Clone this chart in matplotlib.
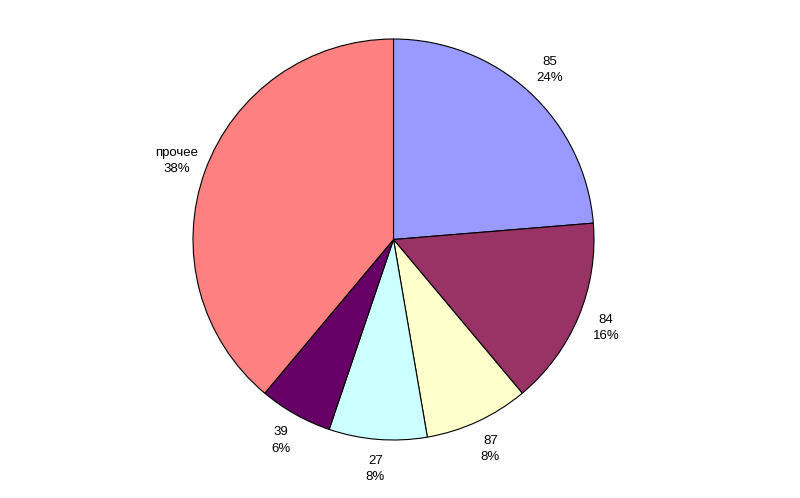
import matplotlib
matplotlib.use("Agg")
import matplotlib.pyplot as plt

# --- данные ---
categories = ["85", "84", "87", "27", "39", "прочее"]
values = [23.7, 15.2, 8.4, 7.9, 5.9, 38.9]
pct_labels = ["24%", "16%", "8%", "8%", "6%", "38%"]
colors = ["#9999FF", "#993366", "#FFFFCC", "#CCFFFF", "#660066", "#FF8080"]

W, H = 800, 498
cx, cy, r = 393.5, 239.5, 200.5

fig = plt.figure(figsize=(W / 100, H / 100), dpi=100)
fig.patch.set_facecolor("white")
ax = fig.add_axes([(cx - r) / W, (H - cy - r) / H, 2 * r / W, 2 * r / H])

labels = [f"{c}\n{p}" for c, p in zip(categories, pct_labels)]
wedges, texts = ax.pie(
    values, labels=labels, colors=colors, startangle=90, counterclock=False,
    radius=1.0, labeldistance=1.15,
    wedgeprops=dict(edgecolor="black", linewidth=0.8),
    textprops=dict(fontsize=9.5, family=["Liberation Sans", "DejaVu Sans"]),
)
for t in texts:
    t.set_horizontalalignment("center")
    t.set_verticalalignment("center")
    t.set_multialignment("center")
    t.set_linespacing(1.45)

ax.set_xlim(-1, 1)
ax.set_ylim(-1, 1)
ax.set_aspect("equal")
ax.axis("off")

fig.savefig("out.png", dpi=100, facecolor="white")
